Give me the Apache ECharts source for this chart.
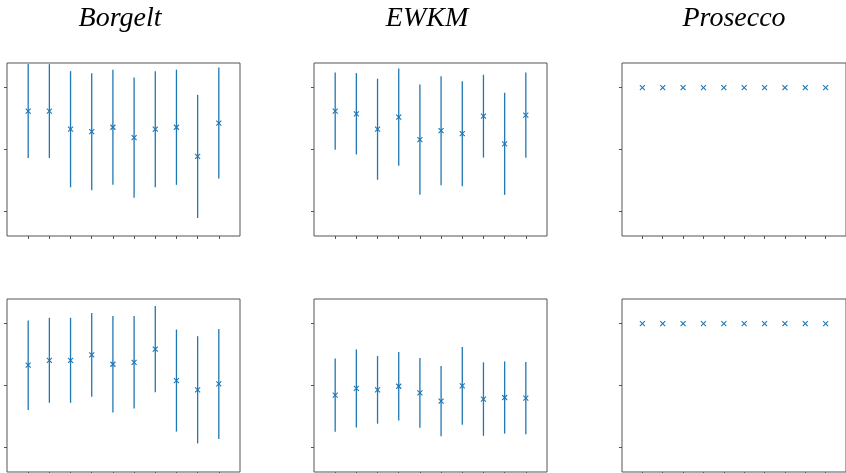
<!DOCTYPE html>
<html>
<head>
<meta charset="utf-8">
<script src="https://cdn.jsdelivr.net/npm/echarts@6/dist/echarts.min.js"></script>
<style>
html,body{margin:0;padding:0;background:#fff;}
#c{width:846px;height:473px;}
</style>
</head>
<body>
<div id="c"></div>
<script>
// ---- data ----
const titles = ['Borgelt', 'EWKM', 'Prosecco'];
const xPositions = [1, 2, 3, 4, 5, 6, 7, 8, 9, 10];
const yTickValues = [0, 0.5, 1];

const borgeltTopMean = [0.811, 0.811, 0.664, 0.644, 0.680, 0.596, 0.664, 0.680, 0.444, 0.714];
const borgeltTopErr  = [0.380, 0.380, 0.470, 0.474, 0.466, 0.487, 0.470, 0.466, 0.498, 0.449];
const ewkmTopMean    = [0.811, 0.789, 0.664, 0.762, 0.580, 0.652, 0.628, 0.770, 0.546, 0.778];
const ewkmTopErr     = [0.313, 0.329, 0.409, 0.393, 0.447, 0.441, 0.425, 0.335, 0.413, 0.345];
const proseccoTopMean = [1, 1, 1, 1, 1, 1, 1, 1, 1, 1];
const proseccoTopErr  = [0, 0, 0, 0, 0, 0, 0, 0, 0, 0];

const borgeltBotMean = [0.664, 0.704, 0.704, 0.747, 0.672, 0.688, 0.795, 0.540, 0.465, 0.513];
const borgeltBotErr  = [0.363, 0.344, 0.344, 0.339, 0.391, 0.375, 0.349, 0.413, 0.434, 0.445];
const ewkmBotMean    = [0.422, 0.476, 0.465, 0.494, 0.440, 0.373, 0.497, 0.390, 0.403, 0.398];
const ewkmBotErr     = [0.296, 0.316, 0.274, 0.277, 0.282, 0.284, 0.315, 0.297, 0.292, 0.293];
const proseccoBotMean = [1, 1, 1, 1, 1, 1, 1, 1, 1, 1];
const proseccoBotErr  = [0, 0, 0, 0, 0, 0, 0, 0, 0, 0];

const panels = [
  [borgeltTopMean, borgeltTopErr], [ewkmTopMean, ewkmTopErr], [proseccoTopMean, proseccoTopErr],
  [borgeltBotMean, borgeltBotErr], [ewkmBotMean, ewkmBotErr], [proseccoBotMean, proseccoBotErr]
];

// ---- layout ----
const COLOR = '#1f77b4';
const colLeft = [7, 314, 622];
const rowTop = [63, 299];
const panelW = 233, panelH = 173;
const titleX = [115, 422, 729];

const chart = echarts.init(document.getElementById('c'), null, {renderer: 'canvas'});

function renderErr(params, api) {
  const x = api.value(0), m = api.value(1), e = api.value(2);
  const c = api.coord([x, m]);
  const lo = api.coord([x, m - e]);
  const hi = api.coord([x, m + e]);
  const s = 2.5;
  const children = [];
  if (e > 0) {
    children.push({type: 'line', shape: {x1: c[0], y1: lo[1], x2: c[0], y2: hi[1]},
      style: {stroke: COLOR, lineWidth: 1.3}});
  }
  children.push({type: 'line', shape: {x1: c[0]-s, y1: c[1]-s, x2: c[0]+s, y2: c[1]+s},
    style: {stroke: COLOR, lineWidth: 1.1}});
  children.push({type: 'line', shape: {x1: c[0]-s, y1: c[1]+s, x2: c[0]+s, y2: c[1]-s},
    style: {stroke: COLOR, lineWidth: 1.1}});
  return {type: 'group', children: children};
}

const grids = [], xAxes = [], yAxes = [], series = [];
panels.forEach((p, i) => {
  const row = Math.floor(i / 3), col = i % 3;
  grids.push({left: colLeft[col], top: rowTop[row], width: panelW, height: panelH,
    show: true, borderColor: '#555', borderWidth: 1, backgroundColor: 'transparent',
    containLabel: false});
  xAxes.push({type: 'value', gridIndex: i, min: 0, max: 11, position: 'bottom',
    axisLine: {show: false, onZero: false}, splitLine: {show: false},
    axisTick: {show: true, inside: false, length: 3, lineStyle: {color: '#555', width: 1}, customValues: xPositions},
    axisLabel: {show: false}});
  yAxes.push({type: 'value', gridIndex: i, min: -0.2, max: 1.2, position: 'left',
    axisLine: {show: false, onZero: false}, splitLine: {show: false},
    axisTick: {show: true, inside: false, length: 3, lineStyle: {color: '#555', width: 1}, customValues: yTickValues},
    axisLabel: {show: false}});
  series.push({type: 'custom', xAxisIndex: i, yAxisIndex: i,
    renderItem: renderErr, silent: true, animation: false,
    encode: {x: 0, y: 1},
    data: xPositions.map((x, k) => [x, p[0][k], p[1][k]])});
});

const option = {
  animation: false,
  backgroundColor: '#fff',
  title: titles.map((t, i) => ({
    text: t, left: titleX[i], top: 0, textAlign: 'center',
    textStyle: {fontFamily: 'Liberation Serif', fontStyle: 'italic', fontWeight: 'normal', fontSize: 28, color: '#000'}
  })),
  grid: grids, xAxis: xAxes, yAxis: yAxes, series: series
};
chart.setOption(option);
</script>
</body>
</html>
